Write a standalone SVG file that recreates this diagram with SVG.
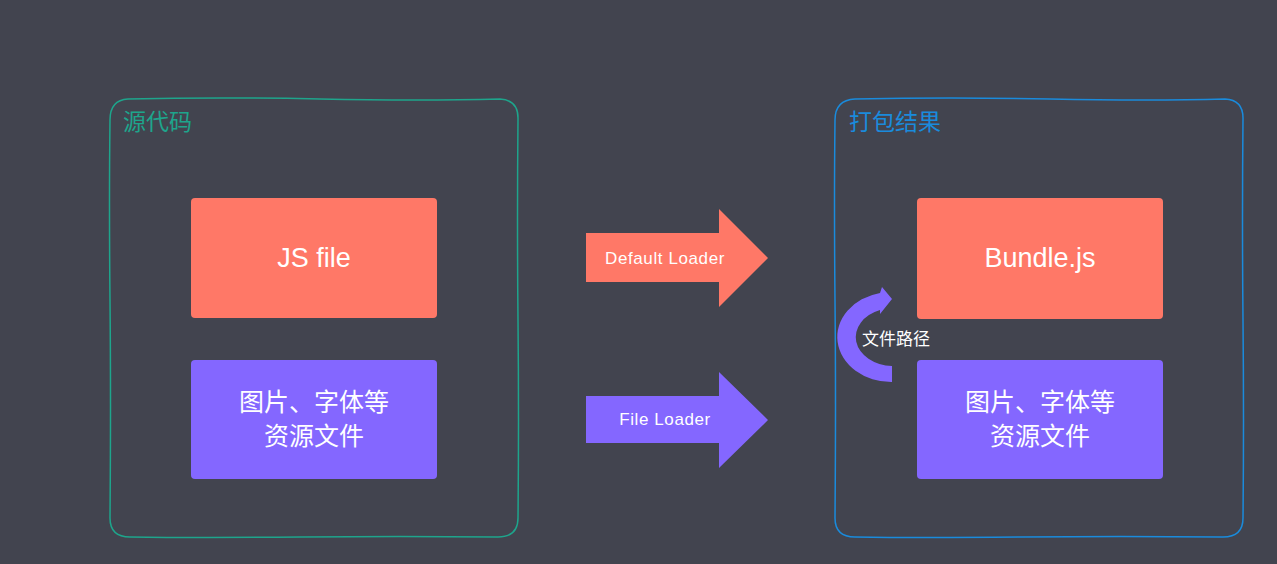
<svg xmlns="http://www.w3.org/2000/svg" width="1277" height="564" viewBox="0 0 1277 564">
<style>
.lat{font-family:"Liberation Sans","Noto Sans CJK SC",sans-serif;fill:#ffffff;text-anchor:middle}
.cjk{font-family:"Noto Sans CJK SC","Liberation Sans",sans-serif;fill:#ffffff;text-anchor:middle}
.red{fill:#ff7867}
.pur{fill:#8467ff}
.lbl{font-size:17px;letter-spacing:0.6px}
</style>
<rect width="1277" height="564" fill="#42444f"/>
<g id="source">
<path d="M128 99 Q220 97 320 99 T500 99 Q518 100 518 118 Q517 220 518 320 T518 518 Q518 537 498 537 Q400 536 300 537 T130 537 Q110 537 110 518 Q111 400 110 300 T110 120 Q110 100 128 99 Z" fill="none" stroke="#1ea58c" stroke-width="1.5"/>
<text x="123" y="130" font-size="23" style="font-family:'Noto Sans CJK SC',sans-serif;fill:#1ea58c">源代码</text>
</g>
<g id="result">
<path d="M855 99 Q950 97 1050 99 T1225 99 Q1243 100 1243 118 Q1242 220 1243 320 T1243 518 Q1243 537 1223 537 Q1120 536 1020 537 T855 537 Q835 537 835 518 Q836 400 835 300 T835 120 Q835 100 855 99 Z" fill="none" stroke="#1a8bdc" stroke-width="1.5"/>
<text x="849" y="130" font-size="23" style="font-family:'Noto Sans CJK SC',sans-serif;fill:#1a8bdc">打包结果</text>
</g>
<g id="jsfile">
<rect x="191" y="198" width="246" height="120" rx="4" class="red"/>
<text x="314" y="267" font-size="27" class="lat">JS file</text>
</g>
<g id="assets-src">
<rect x="191" y="360" width="246" height="119" rx="4" class="pur"/>
<text x="314" y="411" font-size="25" class="cjk">图片、字体等</text>
<text x="314" y="445" font-size="25" class="cjk">资源文件</text>
</g>
<g id="bundle">
<rect x="917" y="198" width="246" height="121" rx="4" class="red"/>
<text x="1040" y="267" font-size="27" class="lat">Bundle.js</text>
</g>
<g id="assets-out">
<rect x="917" y="360" width="246" height="119" rx="4" class="pur"/>
<text x="1040" y="411" font-size="25" class="cjk">图片、字体等</text>
<text x="1040" y="445" font-size="25" class="cjk">资源文件</text>
</g>
<g id="connectors">
<g id="default-loader">
<path d="M586 233 L719 233 L719 209 L768 258 L719 307 L719 282 L586 282 Z" class="red"/>
<text x="665" y="264" class="lat lbl">Default Loader</text>
</g>
<g id="file-loader">
<path d="M586 396 L719 396 L719 372 L768 420 L719 468 L719 443 L586 443 Z" class="pur"/>
<text x="665" y="425" class="lat lbl">File Loader</text>
</g>
<g id="file-path">
<path d="M892 382 A54 45 0 0 1 880 293 L882 287 L892 299 L880 314 L880 310 A38 29 0 0 0 892 366 Z" class="pur"/>
<text x="896" y="345" font-size="17" class="cjk">文件路径</text>
</g>
</g>
</svg>
